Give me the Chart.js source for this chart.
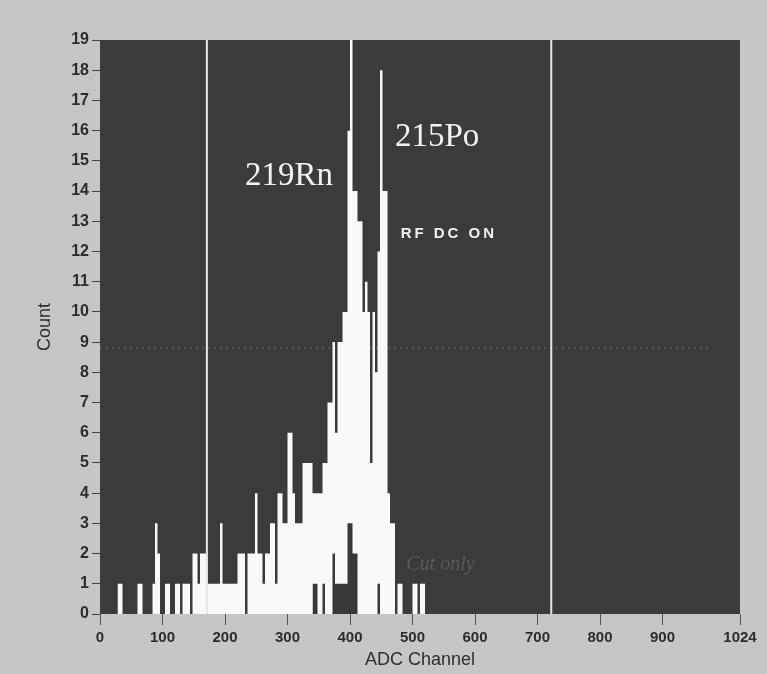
<!DOCTYPE html>
<html>
<head>
<meta charset="utf-8">
<script src="https://cdn.jsdelivr.net/npm/chart.js@4.4.0/dist/chart.umd.min.js"></script>
<style>
  html, body { margin: 0; padding: 0; background: #c6c6c6; }
  #wrap { width: 767px; height: 674px; }
</style>
</head>
<body>
<div id="wrap"><canvas id="adcPlot" width="767" height="674"></canvas></div>
<script>
// all events: step edges (ADC channel) and the count held until the next edge
const allEdges = [28, 36, 60, 68, 84, 88, 92, 96, 104, 112, 120, 128, 132, 144, 148, 156, 160, 172, 192, 196,
                  220, 232, 236, 248, 252, 260, 264, 272, 280, 284, 292, 300, 308, 312, 324, 340, 356, 364, 372, 376,
                  380, 388, 396, 400, 404, 412, 420, 424, 428, 432, 436, 440, 444, 448, 452, 460, 464, 472, 476, 484,
                  500, 508, 512, 520]
const allCounts = [1, 0, 1, 0, 1, 3, 2, 0, 1, 0, 1, 0, 1, 0, 2, 1, 2, 1, 3, 1,
                   2, 0, 2, 4, 2, 1, 2, 3, 1, 4, 3, 6, 4, 3, 5, 4, 5, 7, 9, 6,
                   9, 10, 16, 19, 14, 13, 10, 11, 10, 5, 10, 8, 12, 18, 14, 4, 3, 0, 1, 0,
                   1, 0, 1]

// "Cut only" spectrum, drawn dark over the white one
const cutEdges = [340, 348, 356, 360, 372, 376, 396, 404, 412, 444, 448]
const cutCounts = [1, 0, 1, 0, 2, 1, 3, 2, 0, 1]

const cursorChannels = [171, 722]
const guideLevel = 8.8
const guideRange = [0, 976]

const xTickValues = [0, 100, 200, 300, 400, 500, 600, 700, 800, 900, 1024]
const yMax = 19

const PLOT_BG = '#3b3b3b'
const PAGE_BG = '#c6c6c6'

const toSteps = (edges, counts) => {
    const pts = counts.map((c, i) => ({x: edges[i], y: c}))
    pts.push({x: edges[edges.length - 1], y: 0})
    return pts
}

// lower order is painted later (on top)
const cursorSets = cursorChannels.map(ch => ({
    data: [{x: ch, y: 0}, {x: ch, y: yMax}],
    borderColor: '#e6e6e6',
    borderWidth: 2,
    pointRadius: 0,
    fill: false,
    order: 1
}))

const labels = [
    {text: '219Rn', x: 232, y: 14.2, font: '33px "Liberation Serif"', color: '#f2f2f2'},
    {text: '215Po', x: 472, y: 15.5, font: '33px "Liberation Serif"', color: '#f2f2f2'},
    {text: 'RF DC ON', x: 481, y: 12.45, font: 'bold 15px "Liberation Sans"', color: '#f0f0f0', spacing: '3px'},
    {text: 'Cut only', x: 490, y: 1.45, font: 'italic 20px "Liberation Serif"', color: '#5a5a5a'}
]

const backgroundPlugin = {
    id: 'plotBackground',
    beforeDraw(chart) {
        const {ctx, chartArea: a} = chart
        ctx.save()
        ctx.fillStyle = PAGE_BG
        ctx.fillRect(0, 0, chart.width, chart.height)
        ctx.fillStyle = PLOT_BG
        ctx.fillRect(a.left, a.top, a.right - a.left, a.bottom - a.top)
        ctx.restore()
    }
}

const labelPlugin = {
    id: 'peakLabels',
    afterDatasetsDraw(chart) {
        const {ctx, scales: {x, y}} = chart
        ctx.save()
        ctx.textBaseline = 'alphabetic'
        ctx.textAlign = 'left'
        labels.forEach(l => {
            ctx.font = l.font
            ctx.fillStyle = l.color
            ctx.letterSpacing = l.spacing || '0px'
            ctx.fillText(l.text, x.getPixelForValue(l.x), y.getPixelForValue(l.y))
        })
        ctx.restore()
    }
}

new Chart(document.getElementById('adcPlot'), {
    type: 'line',
    data: {
        datasets: [{
            data: toSteps(allEdges, allCounts),
            stepped: 'before',
            fill: 'origin',
            backgroundColor: '#f9f9f9',
            borderColor: 'rgba(0,0,0,0)',
            borderWidth: 1,
            pointRadius: 0,
            order: 3
        }, {
            data: toSteps(cutEdges, cutCounts),
            stepped: 'before',
            fill: 'origin',
            backgroundColor: '#383838',
            borderColor: 'rgba(0,0,0,0)',
            borderWidth: 1,
            pointRadius: 0,
            order: 2
        }, {
            data: [{x: guideRange[0], y: guideLevel}, {x: guideRange[1], y: guideLevel}],
            borderColor: 'rgba(150,150,150,0.55)',
            borderWidth: 1,
            borderDash: [2, 4],
            pointRadius: 0,
            fill: false,
            order: 4
        }, ...cursorSets]
    },
    options: {
        responsive: false,
        animation: false,
        devicePixelRatio: 1,
        layout: {padding: {top: 40, right: 27, left: 0, bottom: 0}},
        plugins: {legend: {display: false}, tooltip: {enabled: false}},
        scales: {
            x: {
                type: 'linear',
                min: 0,
                max: 1024,
                afterBuildTicks: s => { s.ticks = xTickValues.map(v => ({value: v})) },
                afterFit: s => { s.height = 60 },
                border: {display: false},
                grid: {drawOnChartArea: false, tickLength: 11, color: '#555', lineWidth: 1},
                ticks: {
                    autoSkip: false,
                    maxRotation: 0,
                    padding: 4,
                    color: '#2c2c2c',
                    callback: v => String(v),
                    font: {family: 'Liberation Sans', size: 15, weight: 'bold'}
                },
                title: {
                    display: true,
                    text: 'ADC Channel',
                    color: '#2e2e2e',
                    padding: {top: 0, bottom: 3},
                    font: {family: 'Liberation Sans', size: 18}
                }
            },
            y: {
                min: 0,
                max: yMax,
                afterFit: s => { s.width = 100 },
                border: {display: false},
                grid: {drawOnChartArea: false, tickLength: 8, color: '#444', lineWidth: 1},
                ticks: {
                    stepSize: 1,
                    padding: 3,
                    color: '#2c2c2c',
                    font: {family: 'Liberation Sans', size: 16, weight: 'bold'}
                },
                title: {
                    display: true,
                    text: 'Count',
                    color: '#2e2e2e',
                    padding: {top: 34, bottom: 0},
                    font: {family: 'Liberation Sans', size: 18}
                }
            }
        }
    },
    plugins: [backgroundPlugin, labelPlugin]
})
</script>
</body>
</html>
